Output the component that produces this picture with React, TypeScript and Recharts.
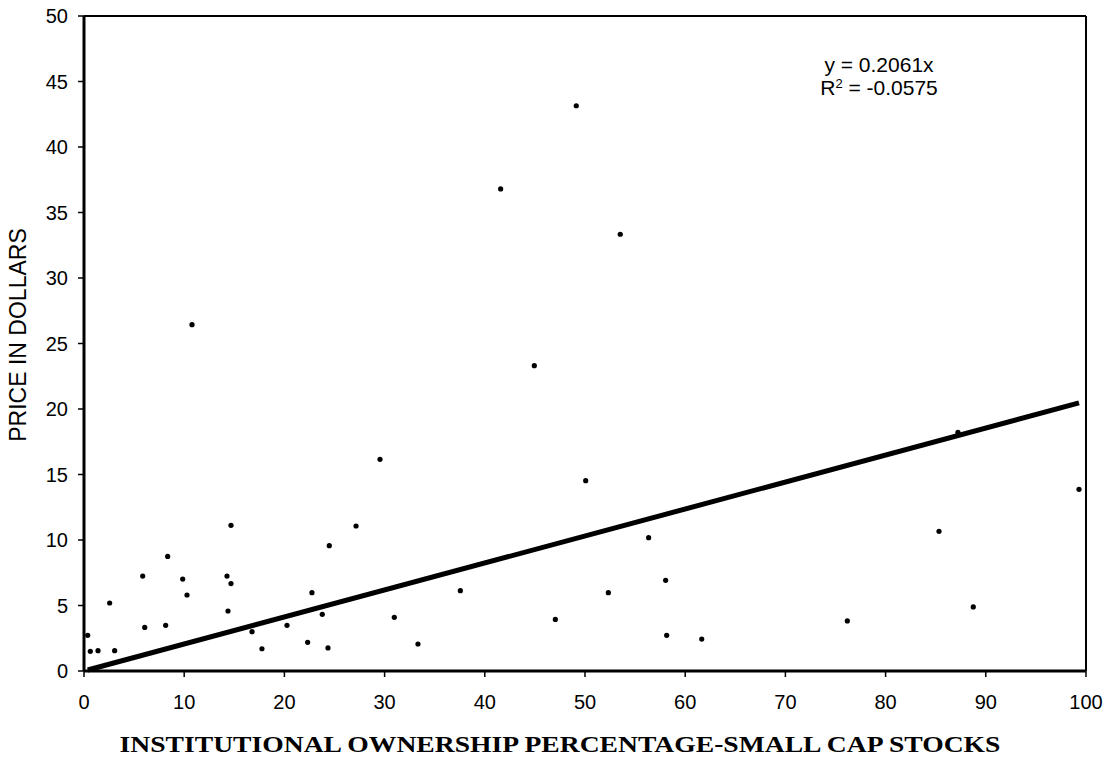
import { ScatterChart, Scatter, XAxis, YAxis, ReferenceLine } from 'recharts'

// institutional ownership % (x) vs price in dollars (y)
const ownership = [
  0.37, 0.63, 1.4, 3.06, 2.56, 5.86, 6.06, 8.15, 8.35, 9.85,
  10.28, 14.67, 14.27, 14.67, 14.37, 16.77, 17.76, 20.26, 22.32, 22.75,
  23.78, 24.35, 24.48, 27.15, 29.54, 30.97, 33.33, 37.56, 47.04, 50.07,
  52.33, 56.35, 58.05, 58.15, 61.65, 76.18, 85.33, 88.75, 99.3, 87.22,
  10.78, 49.13, 41.58, 53.52, 44.94,
]
const price = [
  2.72, 1.5, 1.55, 1.55, 5.19, 7.25, 3.33, 3.49, 8.75, 7.02,
  5.8, 11.12, 7.25, 6.67, 4.58, 3.0, 1.7, 3.49, 2.19, 5.98,
  4.33, 1.76, 9.57, 11.07, 16.16, 4.1, 2.06, 6.13, 3.94, 14.53,
  5.98, 10.18, 6.92, 2.72, 2.44, 3.82, 10.66, 4.89, 13.87, 18.22,
  26.44, 43.15, 36.8, 33.34, 23.31,
]

const SLOPE = 0.2061
const R2 = '-0.0575'
const xTicks = [0, 10, 20, 30, 40, 50, 60, 70, 80, 90, 100]
const yTicks = [0, 5, 10, 15, 20, 25, 30, 35, 40, 45, 50]

const points = ownership.map((x, i) => ({ x, y: price[i] }))
const xMin = Math.min(...ownership)
const xMax = Math.max(...ownership)
const trend = [
  { x: xMin, y: SLOPE * xMin },
  { x: xMax, y: SLOPE * xMax },
]

const tickStyle = { fill: '#000', fontSize: 20, fontFamily: 'Liberation Sans, Arial, sans-serif' }

const Dot = (props: { cx?: number; cy?: number }) => (
  <circle cx={props.cx} cy={props.cy} r={2.6} fill="#000" />
)

export default function App() {
  return (
    <div style={{ position: 'absolute', left: 0, top: 0, width: 1109, height: 757, background: '#fff' }}>
      <ScatterChart width={1109} height={757} margin={{ top: 16, right: 23, bottom: 0, left: 0 }}>
        <XAxis
          type="number" dataKey="x" domain={[0, 100]} ticks={xTicks}
          height={86} tick={tickStyle} tickSize={6} tickMargin={18}
          axisLine={{ stroke: '#000', strokeWidth: 3 }}
          tickLine={{ stroke: '#000', strokeWidth: 1.5 }}
        />
        <YAxis
          type="number" dataKey="y" domain={[0, 50]} ticks={yTicks}
          width={84} tick={tickStyle} tickSize={6} tickMargin={10}
          axisLine={{ stroke: '#000', strokeWidth: 3 }}
          tickLine={{ stroke: '#000', strokeWidth: 1.5 }}
        />
        <ReferenceLine y={50} stroke="#000" strokeWidth={2} />
        <ReferenceLine x={100} stroke="#000" strokeWidth={2} />
        <Scatter
          data={trend} line={{ stroke: '#000', strokeWidth: 5 }}
          shape={() => <g />} isAnimationActive={false}
        />
        <Scatter data={points} shape={<Dot />} isAnimationActive={false} />
      </ScatterChart>

      {/* trendline equation */}
      <div style={{
        position: 'absolute', left: 879, top: 53, transform: 'translateX(-50%)',
        fontFamily: 'Liberation Sans, Arial, sans-serif', fontSize: 21, lineHeight: '23px',
        textAlign: 'center', whiteSpace: 'nowrap', color: '#000',
      }}>
        <div>y = {SLOPE}x</div>
        <div>
          R<span style={{ fontSize: 13, lineHeight: 0, position: 'relative', top: -7 }}>2</span> = {R2}
        </div>
      </div>

      {/* y axis title */}
      <div style={{
        position: 'absolute', left: 18, top: 335, transform: 'translate(-50%, -50%) rotate(-90deg)',
        fontFamily: 'Liberation Sans, Arial, sans-serif', fontSize: 23, whiteSpace: 'nowrap', color: '#000',
      }}>
        PRICE IN DOLLARS
      </div>

      {/* x axis title */}
      <div style={{
        position: 'absolute', left: 560, top: 734, transform: 'translateX(-50%) scaleX(1.2)',
        fontFamily: 'Liberation Serif, Times New Roman, serif', fontWeight: 'bold', fontSize: 23,
        lineHeight: '22px', whiteSpace: 'nowrap', color: '#000',
      }}>
        INSTITUTIONAL OWNERSHIP PERCENTAGE-SMALL CAP STOCKS
      </div>
    </div>
  )
}
